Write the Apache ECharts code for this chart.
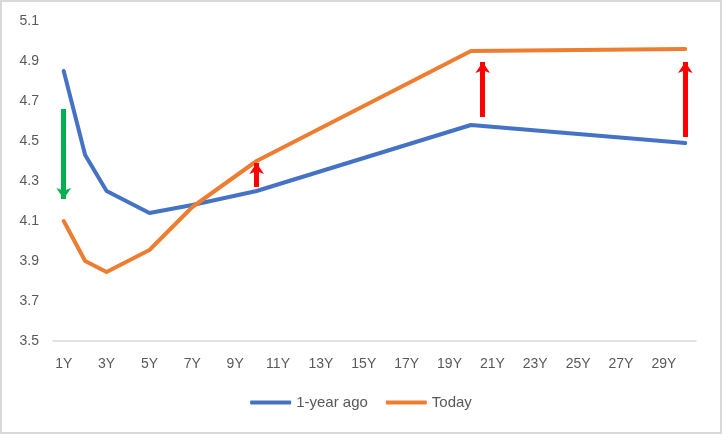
<!DOCTYPE html>
<html>
<head>
<meta charset="utf-8">
<script src="https://cdn.jsdelivr.net/npm/echarts@6/dist/echarts.min.js"></script>
<style>
  html, body { margin: 0; padding: 0; background: #fff; }
  #main { width: 722px; height: 434px; box-sizing: border-box; border: 2px solid #d9d9d9; }
</style>
</head>
<body>
<div id="main"></div>
<script>
// tenors 1Y..30Y, only some have yields
var categories = [];
for (var i = 1; i <= 30; i++) categories.push(i + 'Y');

var tenors = [1, 2, 3, 5, 7, 10, 20, 30];
var yearAgo = [4.85, 4.43, 4.25, 4.14, 4.18, 4.25, 4.58, 4.49];
var today = [4.10, 3.90, 3.845, 3.955, 4.17, 4.40, 4.95, 4.96];

// arrows: x position (category index), start value, end value, colour
var arrowX = [0, 9, 19.55, 29];
var arrowFrom = [4.66, 4.27, 4.62, 4.52];
var arrowTo = [4.21, 4.39, 4.895, 4.895];
var arrowColor = ['#00b050', '#ff0000', '#ff0000', '#ff0000'];

function toSeries(vals) {
  var out = categories.map(function () { return null; });
  for (var j = 0; j < tenors.length; j++) out[tenors[j] - 1] = vals[j];
  return out;
}

var arrows = [];
for (var k = 0; k < arrowX.length; k++) {
  arrows.push([
    { coord: [arrowX[k], arrowFrom[k]], lineStyle: { color: arrowColor[k] }, itemStyle: { color: arrowColor[k] } },
    { coord: [arrowX[k], arrowTo[k]] }
  ]);
}

var font = 'Liberation Sans';
var chart = echarts.init(document.getElementById('main'));
chart.setOption({
  animation: false,
  grid: { left: 51, right: 24, top: 19, bottom: 91, containLabel: false },
  legend: {
    bottom: 17,
    left: 'center',
    itemWidth: 41,
    itemHeight: 4,
    itemGap: 18,
    icon: 'roundRect',
    textStyle: { color: '#595959', fontSize: 15, fontFamily: font },
    data: ['1-year ago', 'Today']
  },
  xAxis: [{
    type: 'category',
    data: categories,
    boundaryGap: true,
    axisLine: { lineStyle: { color: '#d9d9d9', width: 1.5 } },
    axisTick: { show: false },
    axisLabel: { interval: 1, color: '#595959', fontSize: 14, fontFamily: font, margin: 16 }
  }, {
    type: 'value',
    min: -0.5,
    max: 29.5,
    show: false
  }],
  yAxis: {
    type: 'value',
    min: 3.5,
    max: 5.1,
    interval: 0.2,
    axisLine: { show: false },
    axisTick: { show: false },
    splitLine: { show: false },
    axisLabel: {
      color: '#595959', fontSize: 14, fontFamily: font, margin: 14,
      formatter: function (v) { return v.toFixed(1); }
    }
  },
  series: [{
    name: '1-year ago',
    type: 'line',
    data: toSeries(yearAgo),
    connectNulls: true,
    showSymbol: false,
    color: '#4472c4',
    lineStyle: { width: 4, cap: 'round', join: 'round' }
  }, {
    name: 'Today',
    type: 'line',
    data: toSeries(today),
    connectNulls: true,
    showSymbol: false,
    color: '#ed7d31',
    lineStyle: { width: 4, cap: 'round', join: 'round' }
  }, {
    name: 'arrows',
    type: 'line',
    xAxisIndex: 1,
    data: [],
    markLine: {
      silent: true,
      symbol: ['none', 'arrow'],
      symbolSize: 11,
      label: { show: false },
      lineStyle: { width: 5, type: 'solid' },
      data: arrows
    }
  }]
});
</script>
</body>
</html>
